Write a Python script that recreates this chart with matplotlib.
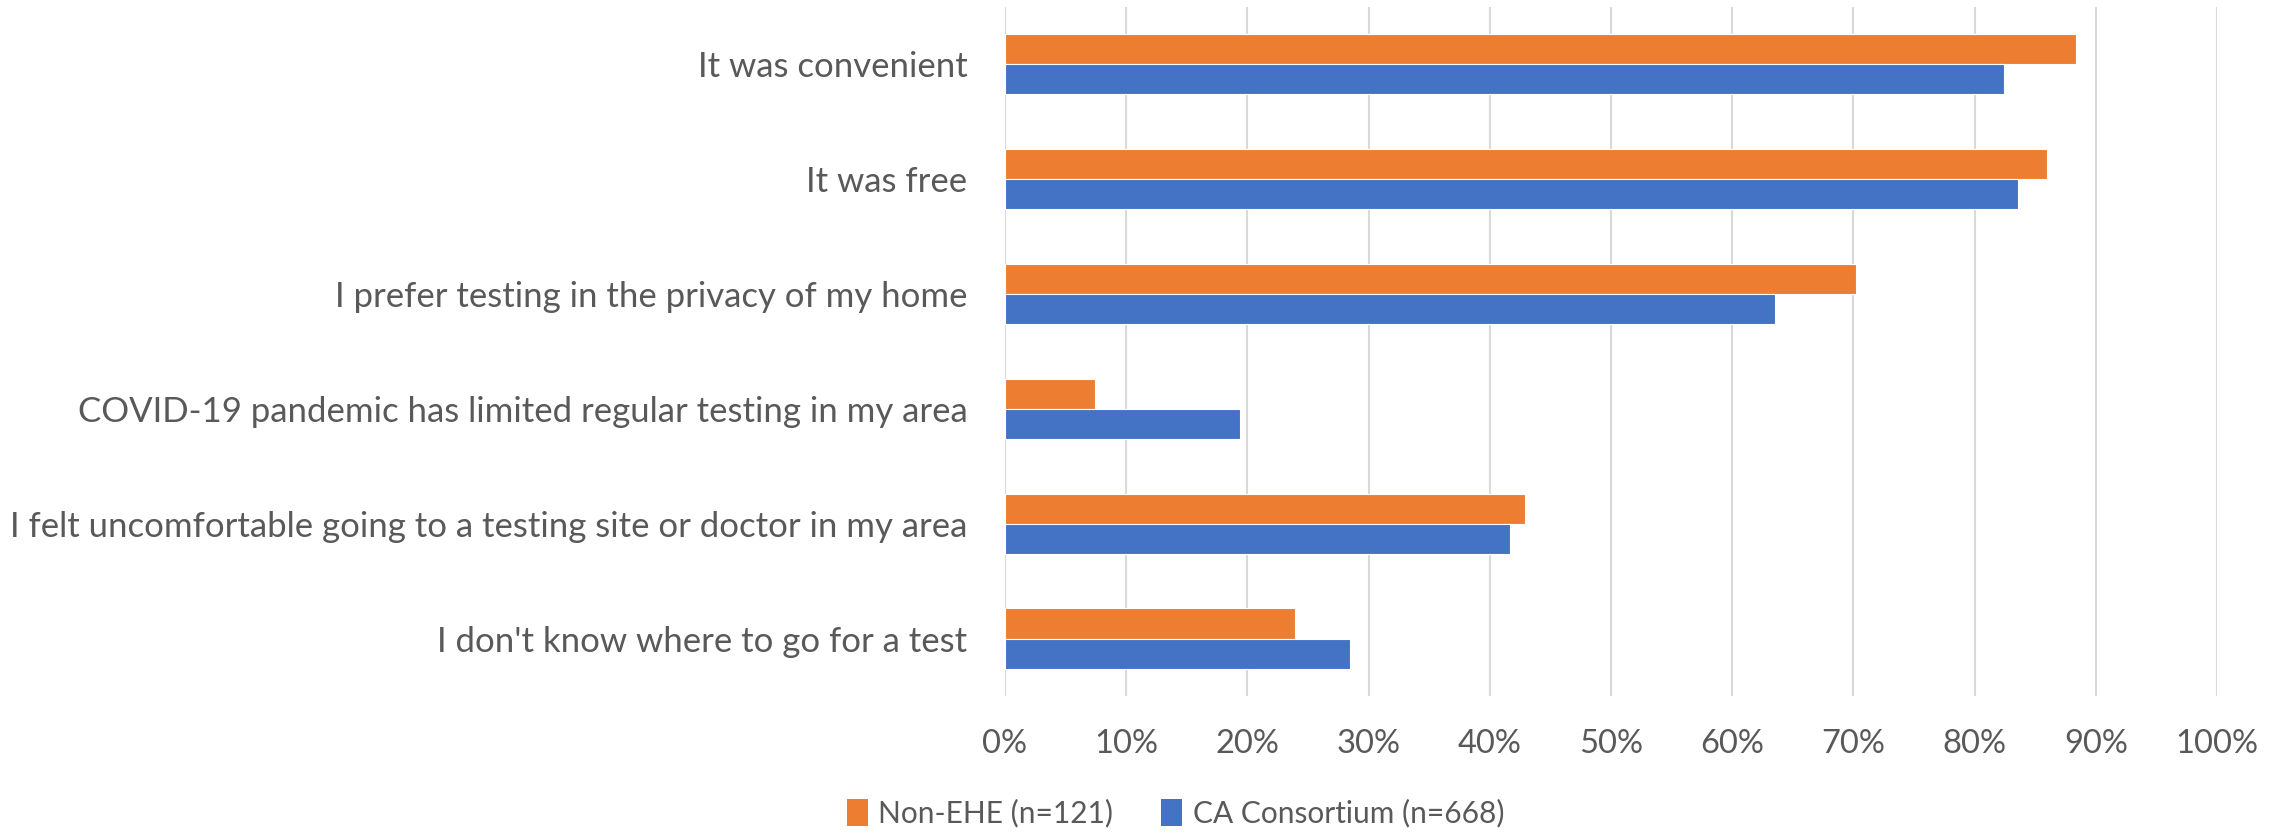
import matplotlib
matplotlib.use("Agg")
import matplotlib.pyplot as plt
import numpy as np
from matplotlib.ticker import PercentFormatter

categories = [
    "It was convenient",
    "It was free",
    "I prefer testing in the privacy of my home",
    "COVID-19 pandemic has limited regular testing in my area",
    "I felt uncomfortable going to a testing site or doctor in my area",
    "I don't know where to go for a test",
]
non_ehe = [88.4, 86.0, 70.2, 7.4, 42.9, 23.9]
ca_consortium = [82.4, 83.6, 63.5, 19.4, 41.7, 28.5]
series_names = ["Non-EHE (n=121)", "CA Consortium (n=668)"]
xticks = list(range(0, 101, 10))

ORANGE = "#ED7D31"
BLUE = "#4472C4"
TEXT = "#595959"
GRID = "#D9D9D9"

plt.rcParams["font.family"] = ["Lato", "DejaVu Sans"]

fig = plt.figure(figsize=(22.87, 8.35), dpi=100)
ax = fig.add_axes([0.4394, 0.1665, 0.5300, 0.8255])

y = np.arange(len(categories))
h = 0.262
b1 = ax.barh(y - h / 2, non_ehe, height=h, color=ORANGE, edgecolor="white", linewidth=0.8, label=series_names[0], zorder=3)
b2 = ax.barh(y + h / 2, ca_consortium, height=h, color=BLUE, edgecolor="white", linewidth=0.8, label=series_names[1], zorder=3)

ax.set_ylim(len(categories) - 0.5, -0.5)
ax.set_xlim(0, 100)
ax.set_xticks(xticks)
ax.xaxis.set_major_formatter(PercentFormatter(decimals=0))
ax.set_yticks(y)
ax.set_yticklabels(categories)

ax.grid(axis="x", color=GRID, linewidth=1.5, zorder=0)
for s in ax.spines.values():
    s.set_visible(False)
ax.tick_params(axis="both", length=0, colors=TEXT)
ax.tick_params(axis="y", pad=27, labelsize=25)
ax.tick_params(axis="x", pad=24, labelsize=23.5)

leg = fig.legend(handles=[b1, b2], labels=series_names, loc="center", bbox_to_anchor=(0.514, 0.026),
                 ncol=2, frameon=False, fontsize=21.5, handlelength=0.7, handleheight=1.0,
                 handletextpad=0.35, columnspacing=1.6)
for t in leg.get_texts():
    t.set_color(TEXT)
for p in leg.get_patches():
    p.set_linewidth(0)

fig.savefig("out.png", dpi=100, facecolor="white")
